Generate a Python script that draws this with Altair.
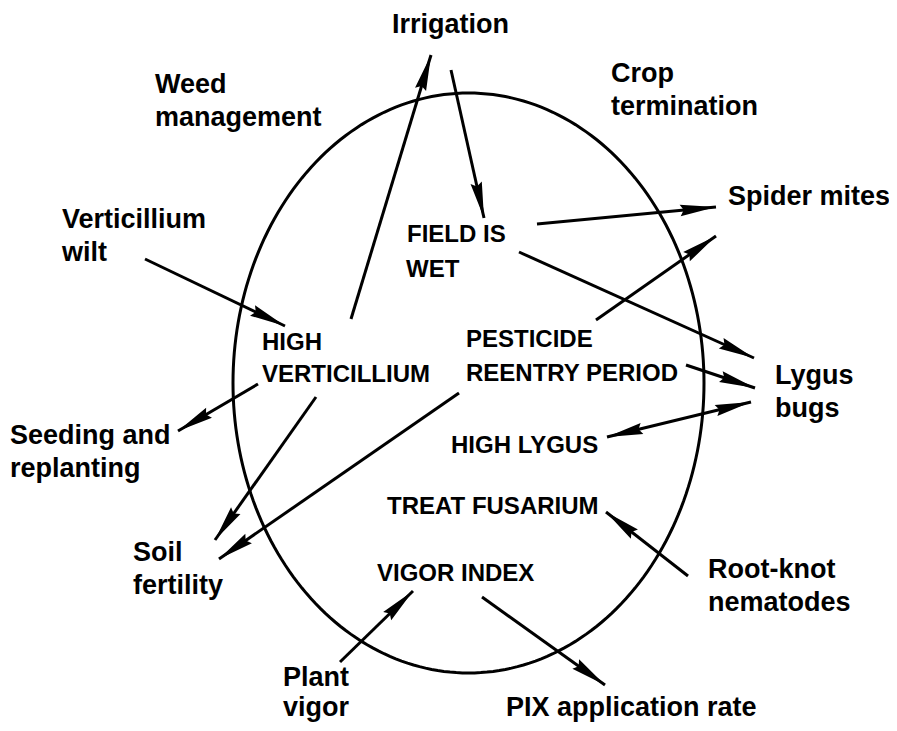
import math
import altair as alt
import pandas as pd

# ---- data ----
outer_text = ["Irrigation", "Weed", "management", "Crop", "termination", "Verticillium", "wilt",
              "Spider mites", "Lygus", "bugs", "Seeding and", "replanting", "Soil", "fertility",
              "Root-knot", "nematodes", "Plant", "vigor", "PIX application rate"]
outer_x = [392, 155, 155, 611, 611, 62, 62, 728, 775, 775, 10, 10, 133, 133, 708, 708, 283, 283, 506]
outer_y = [33, 93, 126, 82, 115, 228, 261, 205, 384, 417, 444, 477, 561, 594, 578, 611, 686, 716, 716]

inner_text = ["FIELD IS", "WET", "HIGH", "VERTICILLIUM", "PESTICIDE", "REENTRY PERIOD",
              "HIGH LYGUS", "TREAT FUSARIUM", "VIGOR INDEX"]
inner_x = [407, 406, 262, 262, 466, 466, 451, 387, 377]
inner_y = [242, 277, 350, 382, 347, 381, 453, 514, 581]

# arrows: tail -> head (tip); double-headed flag
arrow_x1 = [351, 451, 537, 519, 596, 686, 607, 145, 258, 316, 459, 688, 340, 482]
arrow_y1 = [319, 70, 224, 252, 320, 365, 437, 259, 384, 397, 393, 576, 662, 597]
arrow_x2 = [431, 484, 716, 754, 716, 755, 751, 285, 178, 215, 219, 606, 413, 605]
arrow_y2 = [55, 218, 207, 358, 236, 388, 402, 326, 431, 540, 559, 512, 591, 685]
arrow_both = [False, False, False, False, False, False, True, False, False, False, False, False, False, False]

ellipse_cx, ellipse_cy = 468.5, 383
ellipse_rx, ellipse_ry = 235.5, 290

W, H = 881, 715
xs = alt.Scale(domain=[8, 8 + W], nice=False, zero=False)
ys = alt.Scale(domain=[8, 8 + H], nice=False, zero=False, reverse=True)

# ---- tables ----
outer_df = pd.DataFrame({"t": outer_text, "x": outer_x, "y": outer_y})
inner_df = pd.DataFrame({"t": inner_text, "x": inner_x, "y": inner_y})
arrow_df = pd.DataFrame({"x1": arrow_x1, "y1": arrow_y1, "x2": arrow_x2, "y2": arrow_y2})

heads = []
for x1, y1, x2, y2, both in zip(arrow_x1, arrow_y1, arrow_x2, arrow_y2, arrow_both):
    ang = math.degrees(math.atan2(x2 - x1, -(y2 - y1))) % 360
    heads.append({"x": x2, "y": y2, "ang": ang})
    if both:
        ang2 = math.degrees(math.atan2(x1 - x2, -(y1 - y2))) % 360
        heads.append({"x": x1, "y": y1, "ang": ang2})
head_df = pd.DataFrame(heads)

n = 240
ell = pd.DataFrame({
    "i": list(range(n + 1)),
    "x": [ellipse_cx + ellipse_rx * math.cos(2 * math.pi * k / n) for k in range(n + 1)],
    "y": [ellipse_cy + ellipse_ry * math.sin(2 * math.pi * k / n) for k in range(n + 1)],
})

ellipse = alt.Chart(ell).mark_line(color="black", strokeWidth=3).encode(
    x=alt.X("x:Q", scale=xs, axis=None),
    y=alt.Y("y:Q", scale=ys, axis=None),
    order="i:Q",
)

rules = alt.Chart(arrow_df).mark_rule(color="black", strokeWidth=3).encode(
    x=alt.X("x1:Q", scale=xs, axis=None),
    y=alt.Y("y1:Q", scale=ys, axis=None),
    x2="x2:Q",
    y2="y2:Q",
)

arrowheads = alt.Chart(head_df).mark_point(filled=True, color="black", opacity=1, strokeWidth=0).encode(
    x=alt.X("x:Q", scale=xs, axis=None),
    y=alt.Y("y:Q", scale=ys, axis=None),
    angle=alt.Angle("ang:Q", scale=None),
    shape=alt.value("M0,0L0.32,2L0,1.8L-0.32,2Z"),
    size=alt.value(1296),
)

outer = alt.Chart(outer_df).mark_text(
    align="left", baseline="alphabetic", font="Liberation Sans", fontWeight="bold", fontSize=27, color="black"
).encode(
    x=alt.X("x:Q", scale=xs, axis=None),
    y=alt.Y("y:Q", scale=ys, axis=None),
    text="t:N",
)

inner = alt.Chart(inner_df).mark_text(
    align="left", baseline="alphabetic", font="Liberation Sans", fontWeight="bold", fontSize=24, color="black"
).encode(
    x=alt.X("x:Q", scale=xs, axis=None),
    y=alt.Y("y:Q", scale=ys, axis=None),
    text="t:N",
)

chart = alt.layer(ellipse, rules, arrowheads, outer, inner).properties(
    width=W, height=H, padding=0,
    autosize=alt.AutoSizeParams(type="none"),
    background="white",
).configure_view(stroke=None)

chart.save("out.html", embed_options={"renderer": "svg", "actions": False})
